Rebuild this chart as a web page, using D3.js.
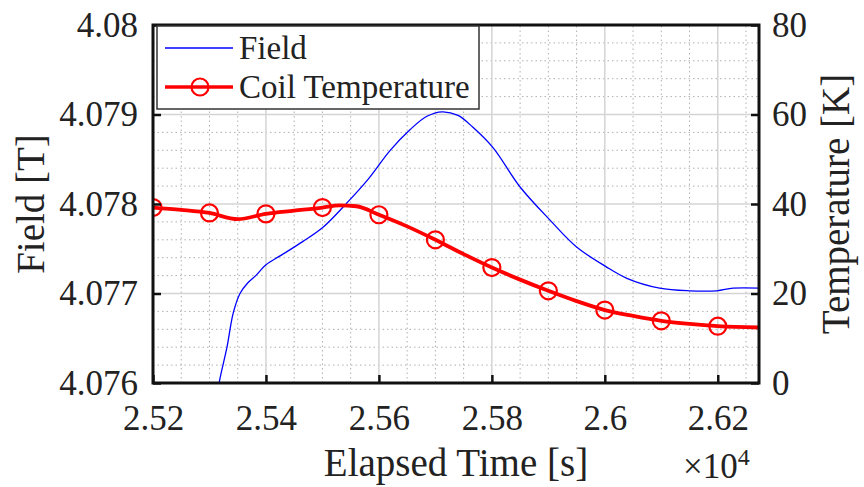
<!DOCTYPE html>
<html>
<head>
<meta charset="utf-8">
<script src="https://cdn.jsdelivr.net/npm/d3@7"></script>
<style>
  html, body { margin: 0; padding: 0; background: #fff; }
  svg text { font-family: "Liberation Serif", "Times New Roman", serif; fill: #222; }
</style>
</head>
<body>
<div id="chart"></div>
<script>
// Data
const fieldTime = [25305, 25317, 25331, 25342, 25354, 25368, 25382, 25400, 25425, 25465, 25501, 25543, 25580, 25620, 25655, 25685, 25712, 25740, 25766, 25802, 25850, 25903, 25950, 26002, 26039, 26097, 26150, 26198, 26227, 26275];
const fieldValue = [4.0755, 4.0760, 4.0764, 4.07678, 4.07700, 4.07712, 4.07720, 4.07732, 4.07742, 4.07758, 4.07774, 4.07801, 4.07827, 4.0786, 4.07883, 4.07898, 4.07903, 4.07899, 4.07886, 4.07863, 4.07819, 4.07782, 4.07752, 4.0773, 4.07717, 4.07706, 4.07703, 4.07703, 4.07706, 4.07706];

const tempTime = [25200, 25250, 25300, 25350, 25400, 25450, 25500, 25530, 25560, 25600, 25650, 25700, 25750, 25800, 25850, 25900, 25950, 26000, 26050, 26100, 26150, 26200, 26273];
const tempValue = [39.2, 38.7, 38.0, 36.6, 37.8, 38.5, 39.2, 39.7, 39.5, 37.6, 35.0, 32.0, 28.8, 25.8, 23.1, 20.6, 18.3, 16.3, 15.0, 13.9, 13.2, 12.7, 12.4];

// circle markers every 100 s
const markerTime = [25200, 25300, 25400, 25500, 25600, 25700, 25800, 25900, 26000, 26100, 26200];

const xTicks = [25200, 25400, 25600, 25800, 26000, 26200];
const xTickLabels = ["2.52", "2.54", "2.56", "2.58", "2.6", "2.62"];
const yLeftTicks = [4.076, 4.077, 4.078, 4.079, 4.08];
const yLeftLabels = ["4.076", "4.077", "4.078", "4.079", "4.08"];
const yRightTicks = [0, 20, 40, 60, 80];

const width = 864;
const height = 487;
const margin = { top: 25, right: 105, bottom: 104, left: 153 };

const svg = d3.select("#chart")
  .append("svg")
  .attr("width", width)
  .attr("height", height);

const x = d3.scaleLinear()
  .domain([25200, 26273])
  .range([margin.left, width - margin.right]);

const yLeft = d3.scaleLinear()
  .domain([4.076, 4.08])
  .range([height - margin.bottom, margin.top]);

const yRight = d3.scaleLinear()
  .domain([0, 80])
  .range([height - margin.bottom, margin.top]);

const x0 = margin.left, x1 = width - margin.right;
const y0 = height - margin.bottom, y1 = margin.top;

// Minor grid (dotted)
const minorX = d3.range(25250, 26273, 50).filter(v => v % 200 !== 0);
const minorY = d3.range(4.076, 4.0800001, 0.0002).filter((v, i) => i % 5 !== 0);

svg.append("g")
  .selectAll("line")
  .data(minorX)
  .join("line")
  .attr("x1", d => x(d)).attr("x2", d => x(d))
  .attr("y1", y0).attr("y2", y1)
  .attr("stroke", "#b0b0b0")
  .attr("stroke-width", 1)
  .attr("stroke-dasharray", "1.5,3");

svg.append("g")
  .selectAll("line")
  .data(minorY)
  .join("line")
  .attr("x1", x0).attr("x2", x1)
  .attr("y1", d => yLeft(d)).attr("y2", d => yLeft(d))
  .attr("stroke", "#b0b0b0")
  .attr("stroke-width", 1)
  .attr("stroke-dasharray", "1.5,3");

// Major grid
svg.append("g")
  .selectAll("line")
  .data(xTicks)
  .join("line")
  .attr("x1", d => x(d)).attr("x2", d => x(d))
  .attr("y1", y0).attr("y2", y1)
  .attr("stroke", "#d4d4d4")
  .attr("stroke-width", 1.5);

svg.append("g")
  .selectAll("line")
  .data(yLeftTicks)
  .join("line")
  .attr("x1", x0).attr("x2", x1)
  .attr("y1", d => yLeft(d)).attr("y2", d => yLeft(d))
  .attr("stroke", "#d4d4d4")
  .attr("stroke-width", 1.5);

// Clip path for the data
svg.append("clipPath")
  .attr("id", "clip")
  .append("rect")
  .attr("x", x0).attr("y", y1)
  .attr("width", x1 - x0).attr("height", y0 - y1);

const plot = svg.append("g").attr("clip-path", "url(#clip)");

// Field line (left axis)
const fieldData = fieldTime.map((t, i) => ({ t: t, v: fieldValue[i] }));
const fieldLine = d3.line()
  .x(d => x(d.t))
  .y(d => yLeft(d.v))
  .curve(d3.curveCatmullRom);

plot.append("path")
  .datum(fieldData)
  .attr("d", fieldLine)
  .attr("fill", "none")
  .attr("stroke", "#0000ff")
  .attr("stroke-width", 1.3);

// Coil temperature (right axis)
const tempData = tempTime.map((t, i) => ({ t: t, v: tempValue[i] }));
const tempLine = d3.line()
  .x(d => x(d.t))
  .y(d => yRight(d.v))
  .curve(d3.curveMonotoneX);

plot.append("path")
  .datum(tempData)
  .attr("d", tempLine)
  .attr("fill", "none")
  .attr("stroke", "#ff0000")
  .attr("stroke-width", 3.8);

plot.append("g")
  .selectAll("circle")
  .data(tempData.filter(d => markerTime.includes(d.t)))
  .join("circle")
  .attr("cx", d => x(d.t))
  .attr("cy", d => yRight(d.v))
  .attr("r", 8.5)
  .attr("fill", "none")
  .attr("stroke", "#ff0000")
  .attr("stroke-width", 2.2);

// Axes (MATLAB style: ticks inward, box around)
const tickLen = 8;
const axisG = svg.append("g");

axisG.append("g")
  .attr("transform", `translate(0, ${y0})`)
  .call(d3.axisBottom(x).tickValues(xTicks).tickFormat((d, i) => xTickLabels[i])
    .tickSizeInner(-tickLen).tickSizeOuter(0).tickPadding(22));

axisG.append("g")
  .attr("transform", `translate(${x0}, 0)`)
  .call(d3.axisLeft(yLeft).tickValues(yLeftTicks).tickFormat((d, i) => yLeftLabels[i])
    .tickSizeInner(-tickLen).tickSizeOuter(0).tickPadding(15));

axisG.append("g")
  .attr("transform", `translate(${x1}, 0)`)
  .call(d3.axisRight(yRight).tickValues(yRightTicks).tickFormat(d3.format("d"))
    .tickSizeInner(-tickLen).tickSizeOuter(0).tickPadding(13));

axisG.selectAll(".domain").remove();
axisG.selectAll(".tick line").attr("stroke", "#111").attr("stroke-width", 2.5);
axisG.selectAll(".tick text")
  .attr("font-size", 35)
  .attr("fill", "#222");

// Box
svg.append("rect")
  .attr("x", x0).attr("y", y1)
  .attr("width", x1 - x0).attr("height", y0 - y1)
  .attr("fill", "none")
  .attr("stroke", "#111")
  .attr("stroke-width", 3);

// Axis labels
svg.append("text")
  .attr("transform", `translate(44, ${(y0 + y1) / 2}) rotate(-90)`)
  .attr("text-anchor", "middle")
  .attr("font-size", 39)
  .text("Field [T]");

svg.append("text")
  .attr("transform", `translate(849, ${(y0 + y1) / 2}) rotate(-90)`)
  .attr("text-anchor", "middle")
  .attr("font-size", 39)
  .text("Temperature [K]");

svg.append("text")
  .attr("x", (x0 + x1) / 2)
  .attr("y", 476)
  .attr("text-anchor", "middle")
  .attr("font-size", 39)
  .text("Elapsed Time [s]");

// Exponent label
const expo = svg.append("text")
  .attr("x", 683)
  .attr("y", 478)
  .attr("font-size", 35);
expo.append("tspan").text("\u00d710");
expo.append("tspan").attr("dy", -13).attr("font-size", 24).text("4");

// Legend
const legend = svg.append("g");
legend.append("rect")
  .attr("x", 157).attr("y", 26)
  .attr("width", 322).attr("height", 83)
  .attr("fill", "#fff")
  .attr("stroke", "#333")
  .attr("stroke-width", 1.5);

legend.append("line")
  .attr("x1", 165).attr("x2", 233)
  .attr("y1", 48).attr("y2", 48)
  .attr("stroke", "#0000ff")
  .attr("stroke-width", 1.3);

legend.append("text")
  .attr("x", 239).attr("y", 59)
  .attr("font-size", 33)
  .text("Field");

legend.append("line")
  .attr("x1", 165).attr("x2", 233)
  .attr("y1", 87).attr("y2", 87)
  .attr("stroke", "#ff0000")
  .attr("stroke-width", 3.5);

legend.append("circle")
  .attr("cx", 200).attr("cy", 87)
  .attr("r", 8.5)
  .attr("fill", "none")
  .attr("stroke", "#ff0000")
  .attr("stroke-width", 2.2);

legend.append("text")
  .attr("x", 239).attr("y", 98)
  .attr("font-size", 33)
  .text("Coil Temperature");
</script>
</body>
</html>
